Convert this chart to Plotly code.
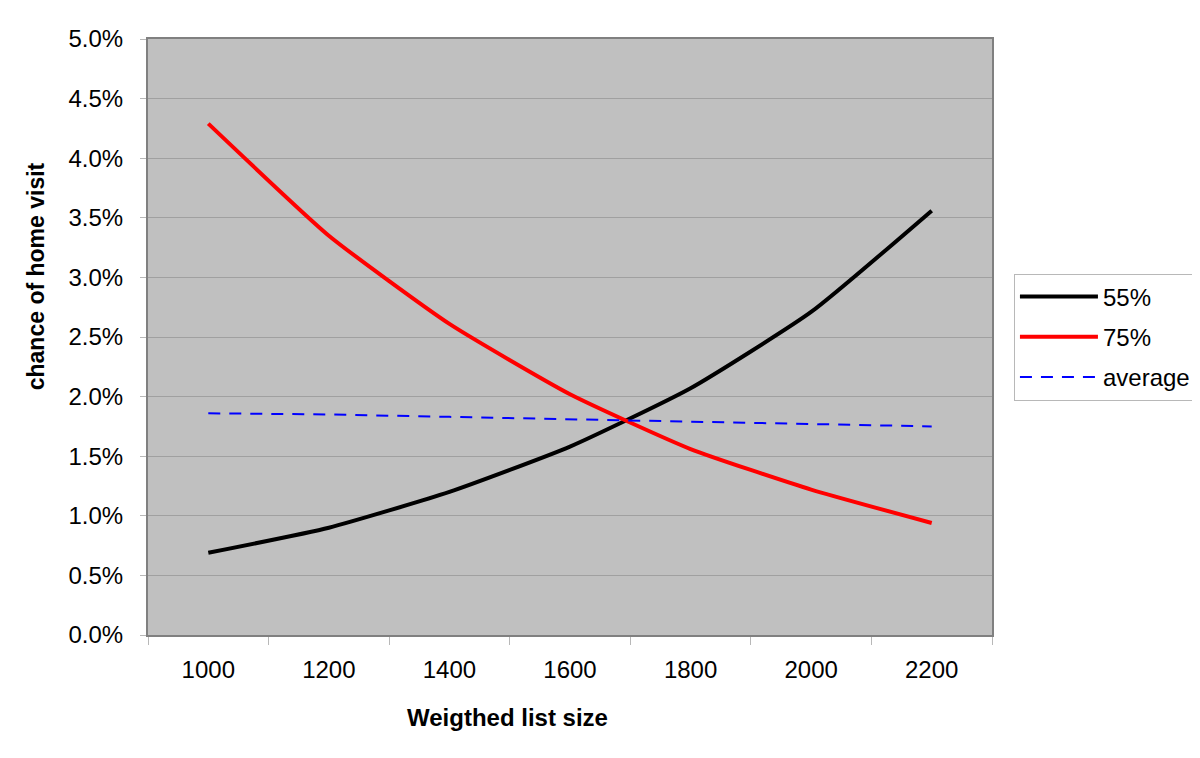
import plotly.graph_objects as go

categories = ["1000", "1200", "1400", "1600", "1800", "2000", "2200"]
series_55 = [0.0069, 0.0090, 0.0120, 0.0158, 0.0207, 0.0271, 0.0356]
series_75 = [0.0429, 0.0335, 0.0261, 0.0202, 0.0156, 0.0122, 0.0094]
series_avg = [0.0186, 0.0185, 0.0183, 0.0181, 0.0179, 0.0177, 0.0175]
y_ticks = [i * 0.005 for i in range(11)]

FONT = "Liberation Sans, Arial, sans-serif"

fig = go.Figure()
fig.add_trace(go.Scatter(x=categories, y=series_55, name="55%", mode="lines", legendgroup="a",
                         line=dict(color="black", width=4, shape="spline", smoothing=0.5)))
fig.add_trace(go.Scatter(x=categories, y=series_75, name="75%", mode="lines", legendgroup="b",
                         line=dict(color="#ff0000", width=4, shape="spline", smoothing=0.5)))
fig.add_trace(go.Scatter(x=categories, y=series_avg, name="average", mode="lines", legendgroup="c",
                         line=dict(color="#0000ff", width=2, dash="12px,9px")))

fig.update_layout(
    width=1200, height=758,
    margin=dict(l=140, r=214, t=31, b=131),
    paper_bgcolor="white",
    plot_bgcolor="#c0c0c0",
    font=dict(family=FONT, size=24, color="black"),
    showlegend=True,
    legend=dict(x=1.026, y=0.5, xanchor="left", yanchor="middle",
                bordercolor="#b8b8b8", borderwidth=1, bgcolor="white",
                font=dict(size=24), traceorder="grouped", tracegroupgap=6, itemwidth=78),
    annotations=[
        dict(text="<b>Weigthed list size</b>", xref="paper", yref="paper",
             x=(506 - 146) / 846, y=(634 - 716) / 596, xanchor="center", yanchor="middle",
             showarrow=False, font=dict(size=24)),
        dict(text="<b>chance of home visit</b>", xref="paper", yref="paper",
             x=(34 - 146) / 846, y=(634 - 275) / 596, xanchor="center", yanchor="middle",
             textangle=-90, showarrow=False, font=dict(size=23)),
    ],
)
fig.update_xaxes(
    type="category", range=[-0.5, 6.5], tickson="boundaries", ticks="outside", ticklen=8,
    tickcolor="#b8b8b8", showgrid=False, showline=True, linecolor="#808080",
    linewidth=2, mirror=True, tickfont=dict(size=24), ticklabelstandoff=12,
    automargin=False,
)
fig.update_yaxes(
    range=[0, 0.05], tickvals=y_ticks, tickformat=".1%", ticks="outside",
    ticklen=6, tickcolor="#b8b8b8", showgrid=True, gridcolor="#a0a0a0", gridwidth=1,
    showline=True, linecolor="#808080", linewidth=2, mirror=True,
    zeroline=False, tickfont=dict(size=24), ticklabelstandoff=12,
    automargin=False,
)

fig.write_html("out.html")
